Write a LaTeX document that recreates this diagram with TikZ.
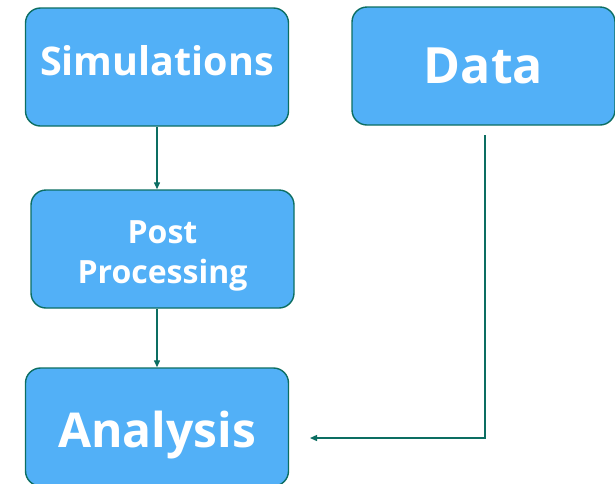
\documentclass[tikz,border=0pt]{standalone}
\usepackage{fontspec}
\setmainfont{Open Sans}
\usepackage{tikz}
\usetikzlibrary{positioning, arrows.meta}
\definecolor{boxblue}{HTML}{52B0F7}
\definecolor{edgeteal}{HTML}{0C6E62}

\begin{document}
\begin{tikzpicture}[x=1pt, y=-1pt,
        blk/.style={draw=edgeteal, line width=1.4pt, fill=boxblue, text=white, rounded corners=15pt,
          minimum width=263pt, minimum height=118pt, align=center, inner sep=0pt},
        lnk/.style={draw=edgeteal, line width=1.3pt, -{Triangle[length=7pt, width=6pt]}}]
        \useasboundingbox (0,0) rectangle (615,483);
        \node[blk, font=\bfseries\fontsize{39.5}{40}\selectfont, text height=30pt, text depth=14pt] (sim) at (157,67) {Simulations};
        \node[blk, font=\bfseries\fontsize{50}{56}\selectfont, text height=40pt, text depth=6pt] (dat) at (483.5,66) {Data};
        \node[blk, font=\bfseries\fontsize{32}{40}\selectfont, text height=78pt, text depth=10pt] (post) at (162.5,249) {Post\\Processing};
        \node[blk, font=\bfseries\fontsize{48}{50}\selectfont, text height=52pt, text depth=12pt] (ana) at (157,427) {Analysis};
        \coordinate (datout) at (485,135);
        \coordinate (anain) at (310,438);
        \draw[lnk] (sim.south) -- (post.north -| sim.south);
        \draw[lnk] (post.south -| sim.south) -- (ana.north);
        \draw[lnk] (datout) |- (anain);
      \end{tikzpicture}
\end{document}
